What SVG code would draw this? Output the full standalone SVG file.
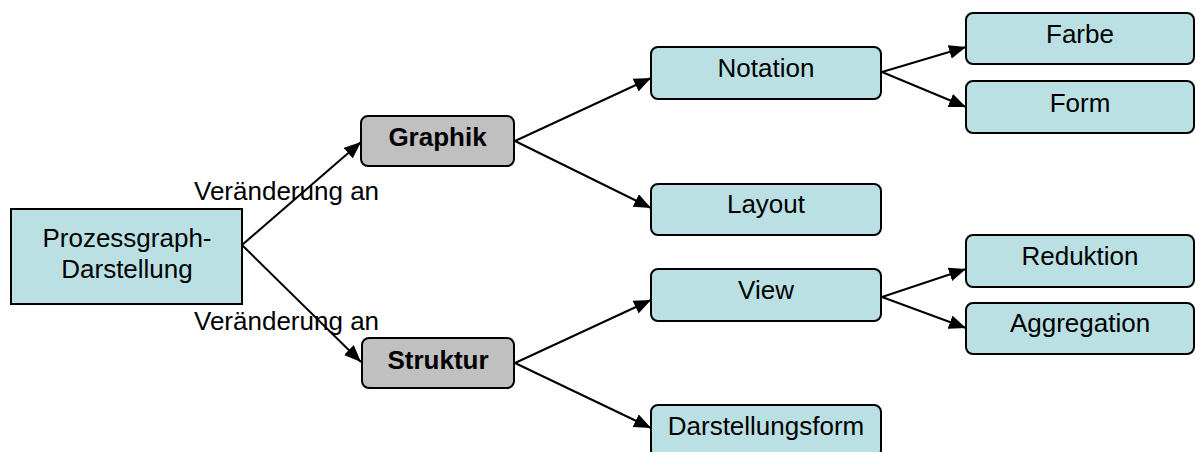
<svg xmlns="http://www.w3.org/2000/svg" width="1196" height="452" viewBox="0 0 1196 452">
<style>
.blue{fill:#BAE0E3;stroke:#000;stroke-width:2}
.gray{fill:#C0C0C0;stroke:#000;stroke-width:2}
text{font-family:"Liberation Sans",Arial,sans-serif;font-size:26px;fill:#000}
.c{text-anchor:middle}
.b{font-weight:bold}
.edge{stroke:#000;stroke-width:2;fill:none;marker-end:url(#ah)}
</style>
<defs>
<marker id="ah" markerUnits="userSpaceOnUse" markerWidth="18" markerHeight="14" refX="17" refY="7" orient="auto">
<path d="M0,0 L17,7 L0,14 z" fill="#000"/>
</marker>
</defs>
<rect width="1196" height="452" fill="#fff"/>
<g id="connectors">
<line class="edge" x1="242" y1="245" x2="361" y2="142"/>
<line class="edge" x1="242" y1="245" x2="361" y2="362"/>
<line class="edge" x1="515" y1="141" x2="651" y2="78"/>
<line class="edge" x1="515" y1="141" x2="651" y2="208"/>
<line class="edge" x1="515" y1="363" x2="651" y2="300"/>
<line class="edge" x1="515" y1="363" x2="651" y2="428"/>
<line class="edge" x1="882" y1="72" x2="966" y2="47"/>
<line class="edge" x1="882" y1="72" x2="966" y2="107"/>
<line class="edge" x1="882" y1="297" x2="966" y2="269"/>
<line class="edge" x1="882" y1="297" x2="966" y2="328"/>
<text x="194" y="200">Veränderung an</text>
<text x="194" y="330">Veränderung an</text>
</g>
<g id="prozess">
<rect class="blue" x="11" y="209" width="231" height="95"/>
<text class="c" x="127" y="247">Prozessgraph-</text>
<text class="c" x="127" y="278">Darstellung</text>
</g>
<g id="graphik">
<rect class="gray" x="361" y="116" width="153" height="50" rx="7"/>
<text class="c b" x="437.5" y="146">Graphik</text>
</g>
<g id="struktur">
<rect class="gray" x="362" y="338" width="152" height="50" rx="7"/>
<text class="c b" x="438" y="369">Struktur</text>
</g>
<g id="notation">
<rect class="blue" x="651" y="47" width="230" height="52" rx="7"/>
<text class="c" x="766" y="77">Notation</text>
</g>
<g id="layout">
<rect class="blue" x="651" y="184" width="230" height="51" rx="7"/>
<text class="c" x="766" y="213">Layout</text>
</g>
<g id="view">
<rect class="blue" x="651" y="269" width="230" height="52" rx="7"/>
<text class="c" x="766" y="299">View</text>
</g>
<g id="darstellungsform">
<rect class="blue" x="651" y="405" width="230" height="52" rx="7"/>
<text class="c" x="766" y="435">Darstellungsform</text>
</g>
<g id="farbe">
<rect class="blue" x="966" y="13" width="228" height="51" rx="7"/>
<text class="c" x="1080" y="43">Farbe</text>
</g>
<g id="form">
<rect class="blue" x="966" y="81" width="228" height="52" rx="7"/>
<text class="c" x="1080" y="112">Form</text>
</g>
<g id="reduktion">
<rect class="blue" x="966" y="235" width="228" height="52" rx="7"/>
<text class="c" x="1080" y="265">Reduktion</text>
</g>
<g id="aggregation">
<rect class="blue" x="966" y="303" width="228" height="51" rx="7"/>
<text class="c" x="1080" y="332">Aggregation</text>
</g>
</svg>
